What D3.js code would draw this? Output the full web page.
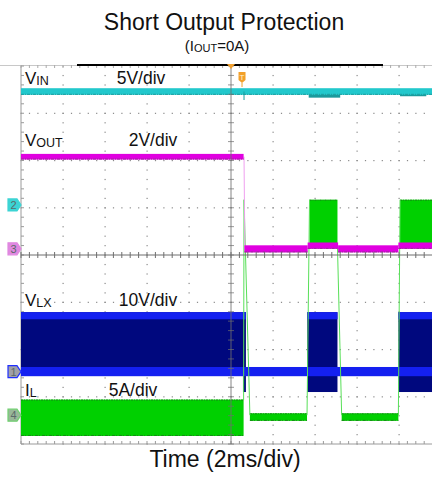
<!DOCTYPE html>
<html>
<head>
<meta charset="utf-8">
<script src="https://cdn.jsdelivr.net/npm/d3@7"></script>
<style>
  body { margin: 0; background: #fff; }
  svg { display: block; font-family: "Liberation Sans", Arial, sans-serif; }
</style>
</head>
<body>
<svg id="chart" width="432" height="477"></svg>
<script>
// scope channels, in drawing order on the left labels
const channelIds = ['vin', 'vout', 'vlx', 'il']
const channelNumbers = ['2', '3', '1', '4']
const channelPerDiv = [5, 2, 10, 5]          // V/div or A/div
const channelOffset = [1.06, 0.13, -2.47, -3.39] // zero level, div above centre
const scaleLabels = ['5V/div', '2V/div', '10V/div', '5A/div']

// time in ms, 2ms/div; bands are [t0, t1, lo, hi]
const vinBands = [[-10, 10, 11.65, 12.35]]
const vinSags = [[3.7, 5.2, 11.35, 11.85], [8.05, 9.3, 11.5, 11.85]]
const vinGlitch = [[0.62, 12.0], [0.62, 11.1]]

const voutBands = [
  [-10, 0.6, 3.78, 4.02],
  [0.64, 3.65, -0.15, 0.15],
  [3.65, 5.1, 0.0, 0.27],
  [5.1, 7.97, -0.15, 0.15],
  [7.97, 10, 0.0, 0.27],
]
const voutFall = [[0.62, 3.9], [0.66, 0.0]]

const vlxBursts = [
  [-10, 0.67, 0.0, 12.6],
  [0.57, 0.71, -4.3, 12.6],
  [3.63, 5.07, -4.3, 12.6],
  [7.97, 10, -4.3, 12.6],
]
const vlxHighRail = [11.1, 12.6]
const vlxZeroBand = [-10, 10, -0.95, 1.0]

const ilBands = [
  [-10, 0.6, -2.2, 1.65],
  [0.9, 3.62, -0.6, 0.2],
  [3.74, 5.07, 17.8, 22.8],
  [5.27, 7.97, -0.6, 0.2],
  [8.05, 10, 17.8, 22.8],
]
const ilEdges = [
  [[0.6, 1.6], [0.62, 22.8], [0.9, 0.0]],
  [[3.62, 0.0], [3.74, 22.8]],
  [[5.07, 17.8], [5.27, 0.0]],
  [[7.97, 0.0], [8.05, 22.8]],
]

const svg = d3.select('#chart')
const plot = { left: 21, right: 441, top: 66, bottom: 444 }

const x = d3.scaleLinear().domain([-10, 10]).range([plot.left, plot.right])
const yDiv = d3.scaleLinear().domain([-4, 4]).range([plot.bottom, plot.top])
const yCh = (i) => (v) => yDiv(channelOffset[i] + v / channelPerDiv[i])
const [yVin, yVout, yVlx, yIl] = [0, 1, 2, 3].map(yCh)

svg.append('defs').append('clipPath').attr('id', 'clip')
  .append('rect')
  .attr('x', plot.left).attr('y', plot.top)
  .attr('width', plot.right - plot.left).attr('height', plot.bottom - plot.top)

// ---- graticule
const grid = svg.append('g')
const majorT = d3.range(-8, 9, 2).filter((d) => d !== 0)
const majorV = d3.range(-3, 4).filter((d) => d !== 0)
const minorT = d3.range(-10, 10.001, 0.4)
const minorV = d3.range(-4, 4.001, 0.2)

const dots = []
majorT.forEach((t) => minorV.forEach((v) => dots.push([t, v])))
majorV.forEach((v) => minorT.forEach((t) => dots.push([t, v])))
grid.selectAll('rect.dot').data(dots).join('rect')
  .attr('class', 'dot')
  .attr('x', (d) => x(d[0]) - 0.5).attr('y', (d) => yDiv(d[1]) - 0.5)
  .attr('width', 1.2).attr('height', 1.2)
  .attr('fill', '#8a8a8a')

// frame
grid.append('line').attr('x1', 0).attr('x2', 432)
  .attr('y1', plot.top - 0.5).attr('y2', plot.top - 0.5).attr('stroke', '#c8c8c8')
grid.append('line').attr('x1', x(-10)).attr('x2', 432)
  .attr('y1', plot.bottom).attr('y2', plot.bottom).attr('stroke', '#9a9a9a')
grid.append('line').attr('x1', x(-10)).attr('x2', x(-10))
  .attr('y1', plot.top).attr('y2', plot.bottom).attr('stroke', '#9a9a9a')
grid.selectAll('line.ftick').data(minorT).join('line')
  .attr('class', 'ftick')
  .attr('x1', (d) => x(d)).attr('x2', (d) => x(d))
  .attr('y1', plot.bottom - 3).attr('y2', plot.bottom)
  .attr('stroke', '#9a9a9a')
grid.selectAll('line.ftickT').data(minorT).join('line')
  .attr('class', 'ftickT')
  .attr('x1', (d) => x(d)).attr('x2', (d) => x(d))
  .attr('y1', plot.top - 1).attr('y2', plot.top + 2)
  .attr('stroke', '#aaa')
grid.selectAll('line.ftickL').data(minorV).join('line')
  .attr('class', 'ftickL')
  .attr('x1', x(-10)).attr('x2', x(-10) + 3)
  .attr('y1', (d) => yDiv(d)).attr('y2', (d) => yDiv(d))
  .attr('stroke', '#9a9a9a')
// record bar on top edge
grid.append('line').attr('x1', 77).attr('x2', 383)
  .attr('y1', plot.top - 1).attr('y2', plot.top - 1)
  .attr('stroke', '#000').attr('stroke-width', 2)

// ---- traces
const tr = svg.append('g').attr('clip-path', 'url(#clip)')

function bands(g, data, yf, fill, edge) {
  g.selectAll(null).data(data).join('rect')
    .attr('x', (d) => x(d[0])).attr('width', (d) => x(d[1]) - x(d[0]))
    .attr('y', (d) => yf(d[3])).attr('height', (d) => yf(d[2]) - yf(d[3]))
    .attr('fill', fill)
  if (edge) {
    g.selectAll(null).data(data).join('line')
      .attr('x1', (d) => x(d[0])).attr('x2', (d) => x(d[1]))
      .attr('y1', (d) => yf(d[2]) - 0.5).attr('y2', (d) => yf(d[2]) - 0.5)
      .attr('stroke', edge).attr('stroke-width', 1)
      .attr('stroke-dasharray', '3 1 1 1')
  }
}
const line = (yf) => d3.line().x((d) => x(d[0])).y((d) => yf(d[1]))

// VIN (cyan)
const gVin = tr.append('g')
bands(gVin, vinSags, yVin, '#1a9a9c')
bands(gVin, vinBands, yVin, '#22c8cc', '#1a9ea0')
gVin.append('path').datum(vinGlitch).attr('d', line(yVin))
  .attr('stroke', '#1a9ea0').attr('stroke-width', 1).attr('fill', 'none')

// VLX (blue)
const gVlx = tr.append('g')
bands(gVlx, vlxBursts, yVlx, '#00087e')
bands(gVlx, vlxBursts.map((d) => [d[0], d[1], vlxHighRail[0], vlxHighRail[1]]), yVlx, '#1420f0')
bands(gVlx, [vlxZeroBand], yVlx, '#1420f0')

// IL (green)
const gIl = tr.append('g')
bands(gIl, ilBands, yIl, '#00d000')
gIl.selectAll(null).data(ilBands).join('line')
  .attr('x1', (d) => x(d[0])).attr('x2', (d) => x(d[1]))
  .attr('y1', (d) => yIl(d[3]) + 0.5).attr('y2', (d) => yIl(d[3]) + 0.5)
  .attr('stroke', '#168a16').attr('stroke-dasharray', '2 1 1 1')
gIl.selectAll(null).data(ilBands).join('line')
  .attr('x1', (d) => x(d[0])).attr('x2', (d) => x(d[1]))
  .attr('y1', (d) => yIl(d[2]) - 0.5).attr('y2', (d) => yIl(d[2]) - 0.5)
  .attr('stroke', '#168a16').attr('stroke-dasharray', '3 1 1 2')
gIl.selectAll('path.edge').data(ilEdges).join('path')
  .attr('class', 'edge')
  .attr('d', line(yIl))
  .attr('stroke', '#58e058').attr('stroke-width', 1).attr('fill', 'none')

// VOUT (magenta)
const gVout = tr.append('g')
gVout.append('path').datum(voutFall).attr('d', line(yVout))
  .attr('stroke', '#f0a0f0').attr('stroke-width', 1).attr('fill', 'none')
bands(gVout, voutBands, yVout, '#e000e0', '#9a2a9a')

// centre cross on top of traces
const cross = svg.append('g').attr('stroke', '#6e6e6e')
cross.append('line').attr('x1', x(0)).attr('x2', x(0))
  .attr('y1', plot.top).attr('y2', plot.bottom).attr('stroke-opacity', 0.85)
cross.append('line').attr('x1', plot.left).attr('x2', 432)
  .attr('y1', yDiv(0)).attr('y2', yDiv(0))
cross.selectAll('line.ct').data(minorT).join('line')
  .attr('class', 'ct')
  .attr('x1', (d) => x(d)).attr('x2', (d) => x(d))
  .attr('y1', yDiv(0) - 3).attr('y2', yDiv(0) + 3)
cross.selectAll('line.cv').data(minorV).join('line')
  .attr('class', 'cv')
  .attr('x1', x(0) - 3).attr('x2', x(0) + 3)
  .attr('y1', (d) => yDiv(d)).attr('y2', (d) => yDiv(d))
  .attr('stroke-opacity', 0.7)

// trigger markers
svg.append('path')
  .attr('d', `M${x(0) - 4},${plot.top - 2}L${x(0) + 4},${plot.top - 2}L${x(0)},${plot.top + 3}Z`)
  .attr('fill', '#f0a030')
const tx = x(0.62) - 2
svg.append('path')
  .attr('d', `M${tx - 3.5},72h7v8l-3.5,3l-3.5,-3Z`)
  .attr('fill', '#f2a02a')
svg.append('line').attr('x1', tx).attr('x2', tx).attr('y1', 83).attr('y2', 87)
  .attr('stroke', '#f2a02a')
svg.append('text').attr('x', tx).attr('y', 80).attr('text-anchor', 'middle')
  .attr('font-size', 8).attr('fill', '#fff3d0').text('T')

// channel markers at the left
const markerFill = ['#3cd4d4', '#e088e0', '#a0a0a8', '#98b898']
const markerStroke = ['#3cd4d4', '#e088e0', '#2030ff', '#70d070']
const mk = svg.append('g')
channelIds.forEach((id, i) => {
  const y0 = yDiv(channelOffset[i])
  mk.append('path')
    .attr('d', `M8,${y0 - 6}h9l4,6l-4,6h-9Z`)
    .attr('fill', markerFill[i]).attr('stroke', markerStroke[i]).attr('stroke-width', 1.2)
  mk.append('text').attr('x', 13.5).attr('y', y0 + 4).attr('text-anchor', 'middle')
    .attr('font-size', 11).attr('fill', '#5a6a6a').text(channelNumbers[i])
})

// channel labels
const nameMain = ['V', 'V', 'V', 'I']
const nameSub = ['IN', 'OUT', 'LX', 'L']
const labelY = [84, 146, 306, 396]
const scaleX = [141, 153, 148, 133]
channelIds.forEach((id, i) => {
  const t = svg.append('text').attr('x', 25).attr('y', labelY[i])
    .attr('font-size', 17).attr('fill', '#111')
  t.append('tspan').text(nameMain[i])
  t.append('tspan').attr('font-size', 12.5).attr('dy', 1).text(nameSub[i])
  svg.append('text').attr('x', scaleX[i]).attr('y', labelY[i])
    .attr('text-anchor', 'middle').attr('font-size', 17.5).attr('fill', '#111')
    .text(scaleLabels[i])
})

// titles
svg.append('text').attr('x', 224).attr('y', 30).attr('text-anchor', 'middle')
  .attr('font-size', 23).attr('fill', '#111').text('Short Output Protection')
const sub = svg.append('text').attr('x', 217).attr('y', 51).attr('text-anchor', 'middle')
  .attr('font-size', 15).attr('fill', '#111')
sub.append('tspan').text('(I')
sub.append('tspan').attr('font-size', 11).attr('dy', 1).text('OUT')
sub.append('tspan').attr('dy', -1).text('=0A)')
svg.append('text').attr('x', 225).attr('y', 467).attr('text-anchor', 'middle')
  .attr('font-size', 23).attr('fill', '#111').text('Time (2ms/div)')
</script>
</body>
</html>
